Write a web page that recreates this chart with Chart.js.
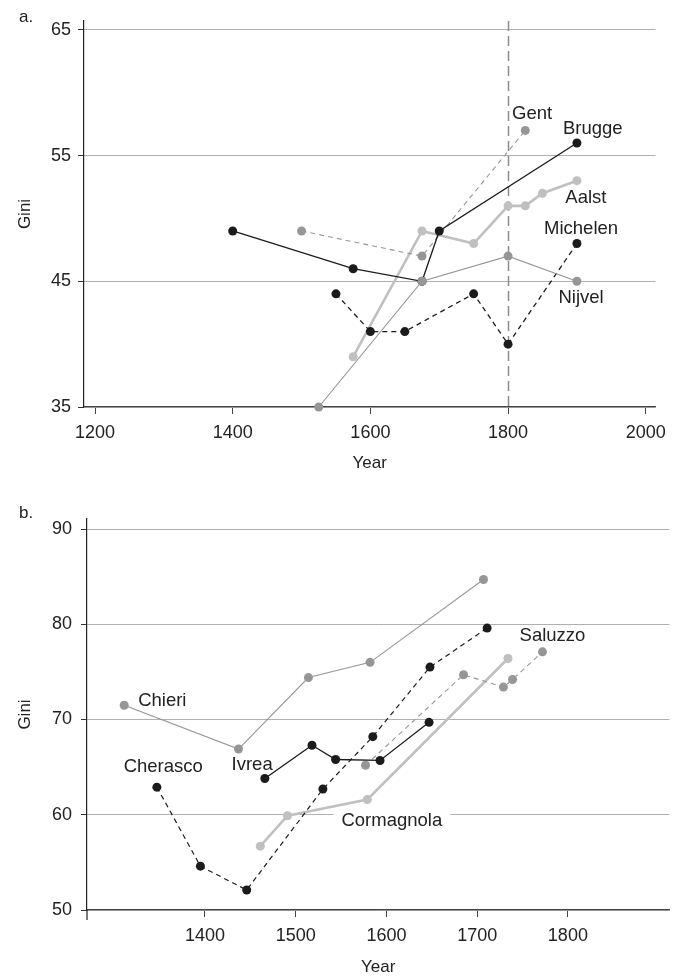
<!DOCTYPE html>
<html>
<head>
<meta charset="utf-8">
<script src="https://cdn.jsdelivr.net/npm/chart.js@4.4.1/dist/chart.umd.min.js"></script>
<style>
  html, body { margin: 0; padding: 0; background: #fff; }
  body { width: 674px; height: 976px; position: relative; overflow: hidden; }
  canvas { position: absolute; left: 0; }
  #chart-a { top: 0; }
  #chart-b { top: 490px; }
</style>
</head>
<body>
<canvas id="chart-a" width="674" height="490"></canvas>
<canvas id="chart-b" width="674" height="486"></canvas>
<script>
// panel a: Flemish towns
const xTicksA = [1200, 1400, 1600, 1800, 2000];
const yTicksA = [35, 45, 55, 65];

const bruggeYears = [1400, 1575, 1675, 1700, 1900];
const bruggeGini = [49, 46, 45, 49, 56];
const gentYears = [1500, 1675, 1825];
const gentGini = [49, 47, 57];
const aalstYears = [1575, 1675, 1750, 1800, 1825, 1850, 1900];
const aalstGini = [39, 49, 48, 51, 51, 52, 53];
const michelenYears = [1550, 1600, 1650, 1750, 1800, 1900];
const michelenGini = [44, 41, 41, 44, 40, 48];
const nijvelYears = [1525, 1675, 1800, 1900];
const nijvelGini = [35, 45, 47, 45];

// panel b: Piedmont towns
const xTicksB = [1400, 1500, 1600, 1700, 1800];
const yTicksB = [50, 60, 70, 80, 90];

const chieriYears = [1311, 1437, 1514, 1582, 1707];
const chieriGini = [71.5, 66.9, 74.4, 76.0, 84.7];
const cherascoYears = [1347, 1395, 1446, 1530, 1585, 1648, 1711];
const cherascoGini = [62.9, 54.6, 52.1, 62.7, 68.2, 75.5, 79.6];
const ivreaYears = [1466, 1518, 1544, 1593, 1647];
const ivreaGini = [63.8, 67.3, 65.8, 65.7, 69.7];
const cormagnolaYears = [1461, 1491, 1579, 1734];
const cormagnolaGini = [56.7, 59.9, 61.6, 76.4];
const saluzzoYears = [1577, 1685, 1729, 1739, 1772];
const saluzzoGini = [65.2, 74.7, 73.4, 74.2, 77.1];

// town name labels, anchored in data units
const labelsA = [
  { text: "Gent", x: 1835, y: 58.3 },
  { text: "Brugge", x: 1923, y: 57.1 },
  { text: "Aalst", x: 1913, y: 51.65 },
  { text: "Michelen", x: 1906, y: 49.2 },
  { text: "Nijvel", x: 1906, y: 43.65 },
];
const labelsB = [
  { text: "Chieri", x: 1353, y: 72.0 },
  { text: "Cherasco", x: 1354, y: 65.0 },
  { text: "Ivrea", x: 1452, y: 65.2 },
  { text: "Cormagnola", x: 1606, y: 59.4, knockout: true },
  { text: "Saluzzo", x: 1783, y: 78.8 },
];

const BLACK = "#1b1b1b";
const MID = "#969696";
const LIGHT = "#c0c0c0";
const FONT = "'Liberation Sans', Arial, Helvetica, sans-serif";
const TEXT = "#222";

function pts(xs, ys) { return xs.map((x, i) => ({ x, y: ys[i] })); }

function series(label, xs, ys, color, width, dashed) {
  return {
    label,
    data: pts(xs, ys),
    borderColor: color,
    backgroundColor: color,
    borderWidth: width,
    borderDash: dashed ? [5, 4] : [],
    pointRadius: 4.5,
    pointBorderWidth: 0,
    pointBackgroundColor: color,
    tension: 0,
    fill: false,
    clip: false,
  };
}

const annotate = {
  id: "annotate",
  beforeDatasetsDraw(chart, args, opts) {
    if (opts.vline == null) return;
    const { ctx, chartArea, scales: { x } } = chart;
    const px = Math.round(x.getPixelForValue(opts.vline)) + 0.5;
    ctx.save();
    ctx.strokeStyle = "#8c8c8c";
    ctx.lineWidth = 1.5;
    ctx.setLineDash([10, 5]);
    ctx.beginPath();
    ctx.moveTo(px, chartArea.top);
    ctx.lineTo(px, chartArea.bottom);
    ctx.stroke();
    ctx.restore();
  },
  afterDatasetsDraw(chart, args, opts) {
    const { ctx, chartArea, scales: { x, y } } = chart;
    ctx.save();
    if (opts.extendAxis) {
      ctx.strokeStyle = "#222";
      ctx.lineWidth = 1.2;
      ctx.beginPath();
      ctx.moveTo(chartArea.left, chartArea.bottom);
      ctx.lineTo(chartArea.left, chartArea.bottom + opts.extendAxis);
      ctx.stroke();
    }
    ctx.font = "18.5px " + FONT;
    ctx.textAlign = "center";
    ctx.textBaseline = "middle";
    opts.labels.forEach(l => {
      const px = x.getPixelForValue(l.x);
      const py = y.getPixelForValue(l.y);
      if (l.knockout) {
        const w = ctx.measureText(l.text).width;
        ctx.fillStyle = "#fff";
        ctx.fillRect(px - w / 2 - 8, py - 10, w + 16, 20);
      }
      ctx.fillStyle = TEXT;
      ctx.fillText(l.text, px, py);
    });
    ctx.font = "17px " + FONT;
    ctx.textAlign = "left";
    ctx.fillStyle = TEXT;
    ctx.fillText(opts.panel, 19, opts.panelY);
    ctx.restore();
  },
};

function makeOptions(cfg) {
  return {
    responsive: false,
    animation: false,
    devicePixelRatio: 1,
    layout: { padding: { left: 0, top: cfg.top, right: cfg.right, bottom: 0 } },
    plugins: {
      legend: { display: false },
      tooltip: { enabled: false },
      annotate: cfg.annotate,
    },
    scales: {
      x: {
        type: "linear",
        min: cfg.xMin,
        max: cfg.xMax,
        afterBuildTicks: s => { s.ticks = cfg.xTicks.map(v => ({ value: v })); },
        afterFit: s => { s.height = cfg.xHeight; },
        ticks: { color: TEXT, font: { size: 18, family: FONT }, padding: 8, maxRotation: 0, callback: v => String(v) },
        grid: { drawOnChartArea: false, drawTicks: true, tickLength: 7, tickColor: "#444", tickWidth: 1 },
        border: { display: true, color: "#444", width: 1.2 },
        title: { display: true, text: "Year", color: TEXT, font: { size: 17, family: FONT, lineHeight: 1 }, padding: { top: 0, bottom: cfg.yearPad } },
      },
      y: {
        type: "linear",
        min: cfg.yMin,
        max: cfg.yMax,
        afterBuildTicks: s => { s.ticks = cfg.yTicks.map(v => ({ value: v })); },
        afterFit: s => { s.width = cfg.yWidth; },
        ticks: { color: TEXT, font: { size: 18, family: FONT }, padding: cfg.yPad, callback: v => String(v) },
        grid: { color: "#b0b0b0", lineWidth: 1, drawTicks: true, tickLength: 6, tickColor: "#333", tickWidth: 1 },
        border: { display: true, color: "#222", width: 1.2 },
        title: { display: true, text: "Gini", color: TEXT, font: { size: 17, family: FONT, lineHeight: 1 }, padding: { top: 16.5, bottom: 0 } },
      },
    },
  };
}

new Chart(document.getElementById("chart-a"), {
  type: "line",
  data: {
    datasets: [
      series("Nijvel", nijvelYears, nijvelGini, MID, 1.1, false),
      series("Brugge", bruggeYears, bruggeGini, BLACK, 1.3, false),
      series("Michelen", michelenYears, michelenGini, BLACK, 1.3, true),
      series("Gent", gentYears, gentGini, MID, 1.1, true),
      series("Aalst", aalstYears, aalstGini, LIGHT, 2.6, false),
    ],
  },
  options: makeOptions({
    top: 21, right: 13, xMin: 1184, xMax: 2014, yMin: 35, yMax: 65.7,
    xTicks: xTicksA, yTicks: yTicksA, xHeight: 83, yWidth: 84, yearPad: 18.5, yPad: 7,
    annotate: { vline: 1800, labels: labelsA, panel: "a.", panelY: 17 },
  }),
  plugins: [annotate],
});

new Chart(document.getElementById("chart-b"), {
  type: "line",
  data: {
    datasets: [
      series("Ivrea", ivreaYears, ivreaGini, BLACK, 1.3, false),
      series("Cherasco", cherascoYears, cherascoGini, BLACK, 1.2, true),
      series("Chieri", chieriYears, chieriGini, MID, 1.1, false),
      series("Saluzzo", saluzzoYears, saluzzoGini, MID, 1.1, true),
      series("Cormagnola", cormagnolaYears, cormagnolaGini, LIGHT, 2.6, false),
    ],
  },
  options: makeOptions({
    top: 29, right: 2, xMin: 1270, xMax: 1912, yMin: 50, yMax: 91.05,
    xTicks: xTicksB, yTicks: yTicksB, xHeight: 66, yWidth: 87, yearPad: 0, yPad: 9,
    annotate: { vline: null, extendAxis: 10, labels: labelsB, panel: "b.", panelY: 23 },
  }),
  plugins: [annotate],
});
</script>
</body>
</html>
